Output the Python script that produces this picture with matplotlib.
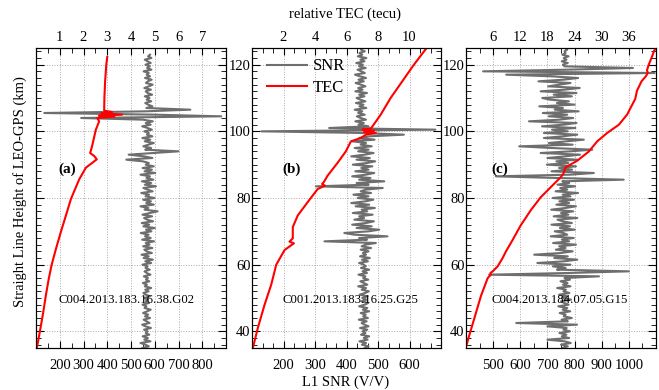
import numpy as np
import matplotlib
matplotlib.use('Agg')
import matplotlib.pyplot as plt
from matplotlib.ticker import MultipleLocator

plt.rcParams['font.family'] = ['Liberation Serif', 'DejaVu Serif']
plt.rcParams['font.size'] = 10

# heights of the SNR samples (km)
h_a = np.arange(35.0, 123.01, 0.5)
h_bc = np.arange(35.0, 125.01, 0.5)

# L1 SNR (V/V), bottom to top
snr_a = [548, 575, 560, 540, 582, 556, 571, 549, 577, 562,
         570, 555, 584, 561, 547, 578, 566, 553, 580, 559,
         572, 551, 568, 583, 557, 565, 549, 576, 562, 571,
         556, 580, 563, 552, 574, 560, 585, 558, 567, 550,
         577, 563, 571, 554, 582, 566, 557, 579, 561, 570,
         548, 585, 560, 592, 553, 575, 544, 588, 566, 556,
         590, 551, 578, 562, 597, 547, 583, 559, 574, 541,
         586, 563, 600, 552, 577, 545, 593, 568, 555, 589,
         548, 580, 612, 557, 573, 540, 596, 564, 584, 551,
         599, 561, 576, 543, 591, 570, 552, 605, 558, 585,
         546, 594, 565, 580, 540, 602, 557, 588, 549, 596,
         562, 575, 550, 480, 590, 555, 490, 595, 700, 560,
         585, 552, 573, 596, 558, 581, 548, 590, 567, 575,
         556, 588, 570, 547, 583, 562, 592, 551, 290, 880,
         600, 135, 560, 750, 565, 590, 572, 560, 585, 566,
         578, 558, 589, 570, 562, 584, 556, 575, 591, 563,
         571, 587, 559, 580, 566, 575, 553, 586, 568, 579,
         561, 583, 570, 558, 586, 572, 580]

snr_b = [458, 470, 449, 462, 441, 467, 455, 472, 446, 460,
         451, 466, 443, 470, 457, 448, 464, 439, 468, 453,
         461, 445, 472, 452, 466, 440, 458, 469, 447, 463,
         450, 467, 442, 459, 471, 448, 462, 437, 466, 455,
         444, 469, 453, 460, 438, 465, 451, 472, 446, 461,
         455, 440, 468, 449, 474, 443, 462, 452, 470, 445,
         478, 448, 460, 493, 330, 465, 440, 530, 425, 393,
         470, 504, 432, 480, 418, 462, 487, 425, 456, 440,
         483, 420, 466, 448, 490, 429, 472, 415, 460, 485,
         436, 470, 422, 478, 445, 460, 515, 303, 470, 432,
         520, 440, 476, 418, 462, 488, 428, 470, 447, 482,
         420, 465, 491, 432, 474, 415, 458, 486, 437, 470,
         426, 480, 445, 462, 418, 489, 440, 472, 582, 455,
         130, 682, 345, 470, 438, 455, 428, 462, 445, 433,
         458, 437, 450, 426, 463, 441, 454, 430, 460, 444,
         432, 457, 440, 465, 428, 451, 437, 460, 446, 429,
         455, 438, 462, 443, 427, 458, 447, 435, 461, 440,
         452, 431, 457, 444, 463, 436, 450, 441, 458, 446,
         449]

snr_c = [757, 775, 750, 786, 763, 700, 780, 753, 770, 744,
         783, 759, 771, 700, 809, 585, 775, 752, 790, 760,
         767, 745, 784, 756, 773, 740, 778, 762, 750, 787,
         754, 772, 743, 781, 759, 768, 736, 785, 757, 774,
         748, 783, 763, 890, 485, 775, 1000, 735, 767, 720,
         785, 663, 760, 810, 725, 775, 651, 750, 793, 731,
         767, 743, 805, 721, 780, 753, 797, 712, 773, 759,
         727, 801, 746, 783, 715, 790, 756, 737, 810, 723,
         777, 750, 795, 714, 766, 805, 733, 780, 744, 798,
         719, 785, 756, 813, 730, 773, 747, 802, 737, 780,
         755, 981, 735, 510, 785, 871, 715, 791, 743, 805,
         698, 777, 733, 810, 700, 765, 820, 675, 785, 865,
         715, 596, 793, 705, 770, 834, 687, 755, 810, 687,
         775, 717, 803, 680, 760, 807, 632, 745, 795, 705,
         773, 683, 815, 727, 757, 670, 800, 735, 779, 710,
         681, 790, 723, 807, 675, 763, 819, 703, 745, 785,
         667, 760, 813, 715, 548, 1095, 463, 775, 1015, 763,
         757, 775, 753, 770, 760, 778, 755, 767, 763, 773,
         765]

# relative TEC (tecu) profiles
tec_h_a = [34.8, 40.2, 45.5, 51.0, 55.5, 60.0, 65.0, 69.9, 75.0, 79.7, 85.6, 89.1,
           91.6, 92.6, 93.5, 95.5, 100.5, 103.0, 104.0, 104.4, 104.7, 105.0, 105.4,
           105.8, 106.2, 110.0, 115.0, 120.0, 122.3]
tec_a = [0.03, 0.17, 0.30, 0.42, 0.53, 0.66, 0.85, 1.05, 1.27, 1.47, 1.82, 2.10,
         2.56, 2.45, 2.28, 2.36, 2.52, 2.66, 2.58, 3.30, 2.65, 3.62, 2.75,
         3.20, 2.87, 2.88, 2.91, 2.96, 3.00]

tec_h_b = [35.3, 41.2, 48.0, 54.0, 60.0, 64.4, 66.4, 66.9, 67.9, 71.3, 74.8, 78.8,
           82.7, 83.7, 84.2, 84.7, 86.7, 90.6, 94.0, 97.0, 98.0, 99.0, 99.5, 99.8,
           100.2, 100.5, 100.9, 101.5, 105.0, 110.0, 115.0, 120.0, 125.2]
tec_b = [0.07, 0.38, 0.80, 1.22, 1.54, 2.07, 2.66, 2.38, 2.59, 2.59, 2.91, 3.54,
         4.17, 4.63, 4.45, 4.55, 4.80, 5.44, 5.96, 6.28, 6.91, 7.23, 7.86, 7.12,
         7.75, 7.01, 7.54, 7.65, 8.17, 8.80, 9.54, 10.28, 11.12]

tec_h_c = [35.3, 38.7, 43.7, 50.6, 56.0, 57.0, 57.5, 58.0, 59.5, 62.0, 63.9, 67.4,
           71.8, 76.3, 80.2, 83.2, 86.2, 87.2, 89.2, 91.2, 94.0, 97.0, 99.5, 102.0,
           105.0, 109.7, 112.2, 115.0, 116.6, 117.6, 118.3, 120.0, 122.0, 124.2, 125.0]
tec_c = [0.0, 0.7, 1.8, 3.3, 4.8, 5.5, 5.4, 5.9, 7.0, 8.1, 8.8, 10.3,
         12.1, 14.3, 16.5, 18.7, 20.9, 21.5, 22.0, 24.6, 27.2, 29.0, 31.2, 33.8,
         35.6, 37.4, 37.8, 38.8, 39.8, 40.2, 40.0, 40.4, 41.0, 41.6, 42.0]

names = ['C004.2013.183.16.38.G02', 'C001.2013.183.16.25.G25', 'C004.2013.184.07.05.G15']
tags = ['(a)', '(b)', '(c)']

SNR_COL = '#6e6e6e'
TEC_COL = '#ff0000'

fig = plt.figure(figsize=(6.59, 3.90), dpi=100)
lefts = [36, 252, 466]
widths = [190, 189, 190]


def draw_panel(i, h, snr, th, tec, snr_lim, tec_lim, snr_ticks, tec_ticks,
               snr_minor, tec_minor, tag_x, name_x):
    ax = fig.add_axes([lefts[i] / 659, 42 / 390, widths[i] / 659, 300 / 390])
    l1, = ax.plot(snr, h, color=SNR_COL, lw=1.5, label='SNR')
    ax.set_xlim(*snr_lim)
    ax.set_ylim(35, 125)
    ax.set_xticks(snr_ticks)
    ax.xaxis.set_minor_locator(MultipleLocator(snr_minor))
    ax.yaxis.set_major_locator(MultipleLocator(20))
    ax.yaxis.set_minor_locator(MultipleLocator(2))
    ax.grid(True, which='major', linestyle=':', color='#a8a8a8', lw=0.7)
    ax.tick_params(axis='both', which='both', direction='in', top=False,
                   right=True, labelsize=10.5)
    ax.tick_params(axis='x', which='major', length=5, pad=8)
    ax.tick_params(axis='x', which='minor', length=3.5)
    ax.tick_params(axis='y', which='major', length=6, pad=1)
    ax.tick_params(axis='y', which='minor', length=3.5)
    if i == 0:
        ax.tick_params(axis='y', labelleft=False)

    tx = ax.twiny()
    l2, = tx.plot(tec, th, color=TEC_COL, lw=1.5, label='TEC')
    tx.set_xlim(*tec_lim)
    tx.set_xticks(tec_ticks)
    tx.xaxis.set_minor_locator(MultipleLocator(tec_minor))
    tx.tick_params(axis='x', which='both', direction='in', labelsize=10.5, pad=3)
    tx.tick_params(axis='x', which='major', length=5)
    tx.tick_params(axis='x', which='minor', length=3.5)

    ax.text(tag_x, 88.6, tags[i], ha='center', va='center', fontsize=11,
            fontweight='bold')
    ax.text(name_x, 49.4, names[i], ha='center', va='center', fontsize=9.2)
    return ax, tx, l1, l2


draw_panel(0, h_a, snr_a, tec_h_a, tec_a, (100, 900), (0, 8),
           [200, 300, 400, 500, 600, 700, 800], [1, 2, 3, 4, 5, 6, 7], 50, 0.5, 230, 483)
ax_b, tx_b, l1, l2 = draw_panel(1, h_bc, snr_b, tec_h_b, tec_b, (100, 700), (0, 12),
                                [200, 300, 400, 500, 600], [2, 4, 6, 8, 10],
                                100 / 3, 2 / 3, 226, 414)
draw_panel(2, h_bc, snr_c, tec_h_c, tec_c, (400, 1100), (0, 42),
           [500, 600, 700, 800, 900, 1000], [6, 12, 18, 24, 30, 36], 50, 3, 525, 745)

tx_b.legend([l1, l2], ['SNR', 'TEC'], loc='upper left', bbox_to_anchor=(0.079, 0.965),
            frameon=False, fontsize=12, handlelength=2.4, handletextpad=0.35,
            labelspacing=0.3, borderpad=0, borderaxespad=0)

fig.text(20 / 659, 198 / 390, 'Straight Line Height of LEO-GPS (km)', rotation=90,
         ha='center', va='center', fontsize=10.5)
fig.text(346 / 659, 8 / 390, 'L1 SNR (V/V)', ha='center', va='center', fontsize=10.5)
fig.text(345 / 659, 376 / 390, 'relative TEC (tecu)', ha='center', va='center', fontsize=10.5)

fig.savefig('out.png', dpi=100)
